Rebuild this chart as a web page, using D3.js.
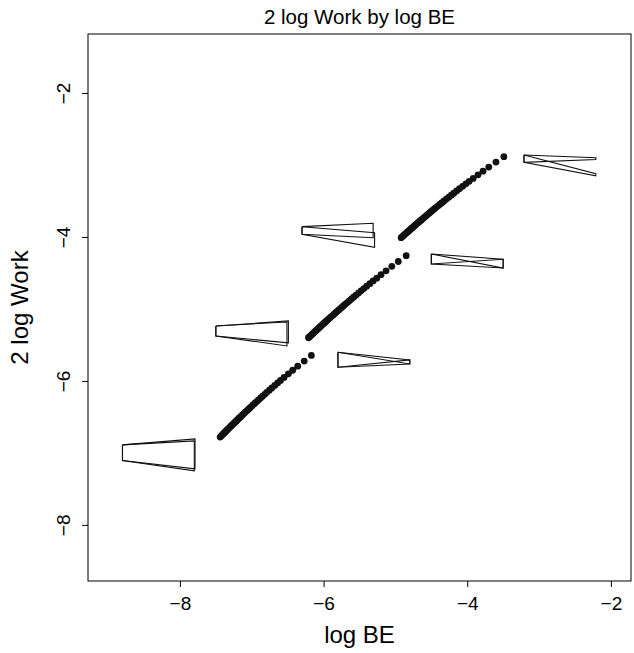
<!DOCTYPE html>
<html lang="en">
<head>
<meta charset="UTF-8">
<script src="https://d3js.org/d3.v7.min.js"></script>
<title>2 log Work by log BE</title>
<style>
  body { margin: 0; background: #fff; }
  svg text { font-family: "Liberation Sans", Arial, Helvetica, sans-serif; fill: #000; }
</style>
</head>
<body>
<div id="chart"></div>
<script>
// three runs of fitted points (log BE, 2 log Work)
const seg1X = [-7.44,-7.425,-7.41,-7.395,-7.38,-7.365,-7.35,-7.335,-7.32,-7.305,-7.29,-7.275,-7.26,-7.245,-7.23,-7.215,-7.20,-7.185,-7.17,-7.15,-7.13,-7.11,-7.09,-7.07,-7.05,-7.03,-7.01,-6.985,-6.96,-6.935,-6.91,-6.88,-6.85,-6.82,-6.79,-6.755,-6.72,-6.68,-6.64,-6.60,-6.55,-6.49,-6.43,-6.36,-6.27,-6.17];
const seg1Y = [-6.780,-6.765,-6.749,-6.734,-6.719,-6.704,-6.689,-6.674,-6.659,-6.644,-6.629,-6.614,-6.600,-6.585,-6.570,-6.556,-6.541,-6.526,-6.512,-6.493,-6.473,-6.454,-6.435,-6.416,-6.397,-6.379,-6.360,-6.337,-6.313,-6.290,-6.267,-6.240,-6.213,-6.186,-6.159,-6.128,-6.097,-6.063,-6.028,-5.994,-5.951,-5.901,-5.852,-5.795,-5.724,-5.646];

const seg2X = [-6.21,-6.194,-6.178,-6.162,-6.146,-6.13,-6.114,-6.098,-6.082,-6.066,-6.05,-6.034,-6.018,-6.002,-5.986,-5.97,-5.954,-5.938,-5.92,-5.90,-5.88,-5.858,-5.836,-5.814,-5.792,-5.77,-5.748,-5.722,-5.696,-5.67,-5.642,-5.612,-5.58,-5.548,-5.514,-5.478,-5.44,-5.40,-5.356,-5.31,-5.26,-5.20,-5.13,-5.05,-4.96,-4.85];
const seg2Y = [-5.400,-5.385,-5.370,-5.355,-5.340,-5.325,-5.310,-5.295,-5.280,-5.265,-5.250,-5.235,-5.221,-5.206,-5.191,-5.177,-5.162,-5.148,-5.131,-5.113,-5.095,-5.076,-5.056,-5.037,-5.017,-4.998,-4.979,-4.956,-4.933,-4.911,-4.887,-4.861,-4.834,-4.807,-4.779,-4.748,-4.717,-4.684,-4.649,-4.611,-4.572,-4.524,-4.470,-4.408,-4.341,-4.260];

const seg3X = [-4.92,-4.903,-4.886,-4.869,-4.852,-4.835,-4.818,-4.801,-4.784,-4.767,-4.75,-4.733,-4.716,-4.699,-4.682,-4.665,-4.648,-4.631,-4.614,-4.593,-4.571,-4.548,-4.525,-4.502,-4.479,-4.456,-4.432,-4.406,-4.379,-4.352,-4.323,-4.291,-4.257,-4.222,-4.187,-4.148,-4.108,-4.064,-4.019,-3.973,-3.917,-3.85,-3.78,-3.70,-3.60,-3.49];
const seg3Y = [-4.010,-3.995,-3.979,-3.964,-3.949,-3.934,-3.919,-3.904,-3.889,-3.874,-3.859,-3.844,-3.829,-3.814,-3.799,-3.785,-3.770,-3.756,-3.741,-3.723,-3.704,-3.685,-3.666,-3.646,-3.627,-3.608,-3.588,-3.567,-3.545,-3.523,-3.499,-3.474,-3.447,-3.419,-3.391,-3.361,-3.330,-3.296,-3.262,-3.227,-3.186,-3.136,-3.086,-3.029,-2.959,-2.884];

// wedge glyphs: shared left edge, two right edges (A and B)
const glyphLeftX   = [-8.80, -7.50, -6.30, -5.80, -4.50, -3.21];
const glyphLeftTop = [-6.889, -5.236, -3.857, -5.601, -4.236, -2.861];
const glyphLeftBot = [-7.107, -5.375, -3.963, -5.810, -4.375, -2.963];
const glyphAX      = [-7.79, -6.49, -5.31, -4.80, -3.50, -2.21];
const glyphA1      = [-6.806, -5.167, -3.810, -5.708, -4.310, -2.900];
const glyphA2      = [-7.222, -5.472, -4.010, -5.764, -4.431, -2.925];
const glyphBX      = [-7.80, -6.51, -5.29, -4.80, -3.50, -2.21];
const glyphB1      = [-6.833, -5.181, -3.940, -5.764, -4.431, -3.120];
const glyphB2      = [-7.250, -5.514, -4.143, -5.708, -4.310, -3.150];

const xTicks = [-8, -6, -4, -2];
const yTicks = [-8, -6, -4, -2];

const width = 634, height = 653;
const margin = { top: 34, right: 3, bottom: 72, left: 88 };

const svg = d3.select("#chart").append("svg")
    .attr("width", width)
    .attr("height", height);

const x = d3.scaleLinear().domain([-9.28, -1.72]).range([margin.left, width - margin.right]);
const y = d3.scaleLinear().domain([-8.78, -1.18]).range([height - margin.bottom, margin.top]);

// axes
const xAxis = svg.append("g")
    .attr("transform", `translate(0,${height - margin.bottom})`)
    .call(d3.axisBottom(x).tickValues(xTicks).tickSize(6).tickSizeOuter(0));
xAxis.select(".domain").remove();
xAxis.selectAll("line").attr("stroke", "#000");
xAxis.selectAll("text")
    .attr("y", 29).attr("dy", 0)
    .attr("font-size", 19)
    .style("font-family", "Liberation Sans, Arial, sans-serif");

const yAxis = svg.append("g")
    .attr("transform", `translate(${margin.left},0)`)
    .call(d3.axisLeft(y).tickValues(yTicks).tickSize(6).tickSizeOuter(0));
yAxis.select(".domain").remove();
yAxis.selectAll("line").attr("stroke", "#000");
yAxis.selectAll("text")
    .attr("x", 0).attr("dy", 0)
    .attr("text-anchor", "middle")
    .attr("transform", "translate(-18,0) rotate(-90)")
    .attr("font-size", 19)
    .style("font-family", "Liberation Sans, Arial, sans-serif");

// box
svg.append("rect")
    .attr("x", x.range()[0])
    .attr("y", y.range()[1])
    .attr("width", x.range()[1] - x.range()[0])
    .attr("height", y.range()[0] - y.range()[1])
    .attr("fill", "none")
    .attr("stroke", "#000")
    .attr("stroke-width", 1);

// glyphs
const line = d3.line().x(d => x(d[0])).y(d => y(d[1]));
for (let i = 0; i < glyphLeftX.length; i++) {
    const quadA = [[glyphLeftX[i], glyphLeftTop[i]], [glyphAX[i], glyphA1[i]],
                   [glyphAX[i], glyphA2[i]], [glyphLeftX[i], glyphLeftBot[i]],
                   [glyphLeftX[i], glyphLeftTop[i]]];
    const quadB = [[glyphLeftX[i], glyphLeftTop[i]], [glyphBX[i], glyphB1[i]],
                   [glyphBX[i], glyphB2[i]], [glyphLeftX[i], glyphLeftBot[i]],
                   [glyphLeftX[i], glyphLeftTop[i]]];
    [quadA, quadB].forEach(q => {
        svg.append("path")
            .attr("d", line(q))
            .attr("fill", "none")
            .attr("stroke", "#111")
            .attr("stroke-width", 1.1);
    });
}

// points
const pts = [];
[[seg1X, seg1Y], [seg2X, seg2Y], [seg3X, seg3Y]].forEach(([xs, ys]) => {
    xs.forEach((v, i) => pts.push([v, ys[i]]));
});
svg.selectAll("circle.pt")
    .data(pts)
    .enter().append("circle")
    .attr("class", "pt")
    .attr("cx", d => x(d[0]))
    .attr("cy", d => y(d[1]))
    .attr("r", 3.4)
    .attr("fill", "#111");

// titles
svg.append("text")
    .attr("x", (x.range()[0] + x.range()[1]) / 2)
    .attr("y", 24)
    .attr("text-anchor", "middle")
    .attr("font-size", 20.5)
    .text("2 log Work by log BE");

svg.append("text")
    .attr("x", (x.range()[0] + x.range()[1]) / 2)
    .attr("y", 643)
    .attr("text-anchor", "middle")
    .attr("font-size", 24)
    .text("log BE");

svg.append("text")
    .attr("transform", `translate(28,${(y.range()[0] + y.range()[1]) / 2}) rotate(-90)`)
    .attr("text-anchor", "middle")
    .attr("font-size", 24)
    .text("2 log Work");
</script>
</body>
</html>
